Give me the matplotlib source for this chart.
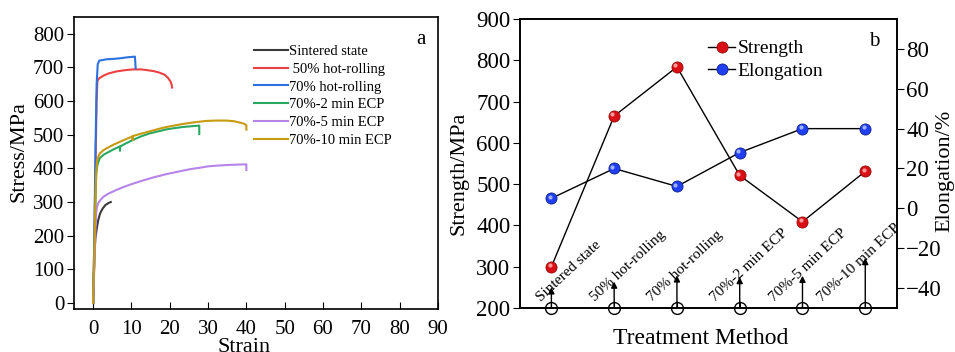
import matplotlib
matplotlib.use('Agg')
import matplotlib.pyplot as plt
import matplotlib.transforms as mtransforms

plt.rcParams['font.family'] = ['Liberation Serif', 'DejaVu Serif']
plt.rcParams['mathtext.fontset'] = 'stix'

# ---- panel a: stress-strain curves (strain, stress) ----
sintered_strain = [0, 0.2, 0.4, 0.6, 0.9, 1.3, 1.8, 2.5, 3.2, 4.0, 4.6]
sintered_stress = [0, 90, 160, 195, 218, 245, 266, 281, 291, 297, 300]

hr50_strain = [0, 0.3, 0.6, 0.9, 1.1, 1.6, 2.6, 4.0, 6.1, 8.5, 10.5, 12.5, 13.9, 15.8, 17.4, 18.7, 19.6, 20.2, 20.5, 20.6]
hr50_stress = [0, 180, 400, 600, 660, 668, 675, 682, 688, 692, 694, 694, 692, 689, 684, 678, 668, 658, 648, 640]

hr70_strain = [0, 0.3, 0.6, 0.9, 1.2, 1.6, 2.5, 3.5, 5.0, 7.0, 9.0, 10.9, 11.0, 11.1]
hr70_stress = [0, 200, 450, 650, 710, 720, 722, 724, 725, 727, 730, 732, 715, 697]

ecp2_strain = [0, 0.3, 0.6, 0.8, 1.1, 1.7, 2.8, 4.4, 5.8, 7.0, 7.0, 7.05, 8.5, 10.5, 12.5, 14.8, 17.0, 19.2, 21.5, 23.5, 25.5, 27.6, 27.7, 27.7]
ecp2_stress = [0, 130, 300, 385, 410, 430, 441, 451, 459, 465, 452, 465, 474, 485, 495, 504, 510, 516, 520, 523, 525, 527, 527, 502]

ecp5_strain = [0, 0.3, 0.6, 0.8, 1.0, 1.3, 1.9, 2.6, 4.0, 6.1, 8.0, 10.5, 13.0, 16.0, 19.2, 22.5, 25.5, 27.9, 30.0, 32.2, 35.0, 37.5, 39.9, 40.0, 40.0]
ecp5_stress = [0, 110, 220, 270, 285, 296, 306, 315, 325, 336, 345, 355, 364, 374, 383, 391, 398, 402, 406, 408, 410, 411, 412, 412, 395]

ecp10_strain = [0, 0.3, 0.6, 0.8, 1.0, 1.4, 1.7, 2.8, 4.4, 5.8, 7.0, 8.8, 10.3, 10.3, 10.35, 12.5, 14.8, 17.0, 19.2, 21.5, 23.5, 26.5, 29.6, 32.0, 34.8, 36.8, 38.3, 39.3, 39.9, 40.0, 40.0]
ecp10_stress = [0, 140, 310, 390, 420, 436, 444, 455, 465, 473, 479, 488, 495, 484, 496, 503, 510, 517, 523, 528, 532, 537, 541, 542, 542, 540, 536, 533, 529, 529, 515]

curve_labels = ['Sintered state', ' 50% hot-rolling', '70% hot-rolling',
                '70%-2 min ECP', '70%-5 min ECP', '70%-10 min ECP']
curve_colors = ['#3a3a3a', '#ee4040', '#2b72e0', '#2aa862', '#b784ea', '#c89a10']

# ---- panel b: strength and elongation per treatment ----
treatments = ['Sintered state', '50% hot-rolling', '70% hot-rolling',
              '70%-2 min ECP', '70%-5 min ECP', '70%-10 min ECP']
strength = [300, 665, 784, 521, 409, 531]
elongation = [5, 20, 11, 28, 40, 40]
arrow_tops = [250, 264, 279, 275, 278, 321]
label_x = [0.83, 1.70, 2.60, 3.61, 4.54, 5.31]

fig = plt.figure(figsize=(9.55, 3.52), dpi=100)

# panel a
ax1 = fig.add_axes([0.0775, 0.122, 0.381, 0.830])
curves = [(sintered_strain, sintered_stress), (hr50_strain, hr50_stress),
          (hr70_strain, hr70_stress), (ecp2_strain, ecp2_stress),
          (ecp5_strain, ecp5_stress), (ecp10_strain, ecp10_stress)]
for (sx, sy), lab, col in zip(curves, curve_labels, curve_colors):
    ax1.plot(sx, sy, color=col, lw=1.5, label=lab)
ax1.set_xlim(-5, 90)
ax1.set_ylim(-18, 850)
ax1.set_xticks(range(0, 91, 10))
ax1.set_yticks(range(0, 801, 100))
ax1.tick_params(axis='x', direction='in', length=5, labelsize=15, pad=8)
ax1.tick_params(axis='y', direction='out', length=5, labelsize=15, pad=2)
ax1.set_xlabel('Strain', fontsize=16)
ax1.set_ylabel('Stress/MPa', fontsize=16)
ax1.xaxis.set_label_coords(0.467, -0.100)
ax1.yaxis.set_label_coords(-0.124, 0.538)
ax1.legend(loc='upper left', bbox_to_anchor=(0.48, 0.925), frameon=False,
           fontsize=10.5, handlelength=2.3, handletextpad=0.05,
           labelspacing=0.32, borderaxespad=0)
ax1.text(0.965, 0.955, 'a', transform=ax1.transAxes, fontsize=15,
         ha='right', va='top')
for sp in ax1.spines.values():
    sp.set_linewidth(1.2)

# panel b
ax2 = fig.add_axes([0.5445, 0.125, 0.3944, 0.821])
ax3 = ax2.twinx()
xs = list(range(1, len(treatments) + 1))

hl2 = mtransforms.offset_copy(ax2.transData, fig=fig, x=-1.2, y=1.2, units='points')
hl3 = mtransforms.offset_copy(ax3.transData, fig=fig, x=-1.2, y=1.2, units='points')

ax2.plot(xs, strength, color='black', lw=1.0, marker='o', ms=8,
         mfc='#d80f14', mec='#9a0a0a', mew=0.6, label='Strength', zorder=3)
ax2.plot(xs, strength, ls='none', marker='o', ms=3, mfc='#ff9a9a', mec='none',
         transform=hl2, zorder=4)
ax3.plot(xs, elongation, color='black', lw=1.0, marker='o', ms=8,
         mfc='#1f3ff0', mec='#102090', mew=0.6, label='Elongation', zorder=3)
ax3.plot(xs, elongation, ls='none', marker='o', ms=3, mfc='#9fb0ff', mec='none',
         transform=hl3, zorder=4)

ax2.set_xlim(0.5, 6.5)
ax2.set_ylim(200, 900)
ax3.set_ylim(-50, 95)
ax2.set_yticks(range(200, 901, 100))
ax3.set_yticks(range(-40, 81, 20))
ax2.set_xticks(xs)
ax2.set_xticklabels([])
ax2.tick_params(axis='x', direction='in', length=5)
ax2.tick_params(axis='y', direction='out', length=5, labelsize=16.5, pad=2)
ax3.tick_params(axis='y', direction='out', length=5, labelsize=16.5, pad=2)
ax2.set_xlabel('Treatment Method', fontsize=17)
ax2.set_ylabel('Strength/MPa', fontsize=16)
ax3.set_ylabel('Elongation/%', fontsize=16)
ax2.xaxis.set_label_coords(0.479, -0.070)
ax2.yaxis.set_label_coords(-0.137, 0.465)
ax3.yaxis.set_label_coords(1.102, 0.476)

# open circles, arrows and rotated category names
for x, top, lx, name in zip(xs, arrow_tops, label_x, treatments):
    ax2.plot(x, 200, marker='o', ms=8.5, mfc='none', mec='black', mew=1.0,
             clip_on=False, zorder=5)
    ax2.annotate('', xy=(x, top), xytext=(x, 200),
                 arrowprops=dict(arrowstyle='-|>', color='black', lw=1.0,
                                 mutation_scale=9, shrinkA=0, shrinkB=0))
    ax2.text(lx, 214, name, rotation=43, rotation_mode='anchor',
             ha='left', va='baseline', fontsize=11)

h2, l2 = ax2.get_legend_handles_labels()
h3, l3 = ax3.get_legend_handles_labels()
ax2.legend(h2 + h3, l2 + l3, loc='upper left', bbox_to_anchor=(0.479, 0.955),
           frameon=False, fontsize=14, handlelength=1.4, handletextpad=0.1,
           labelspacing=0.25, borderaxespad=0)
ax2.text(0.955, 0.955, 'b', transform=ax2.transAxes, fontsize=15,
         ha='right', va='top')
for sp in list(ax2.spines.values()) + list(ax3.spines.values()):
    sp.set_linewidth(1.2)

fig.savefig('out.png', dpi=100)
